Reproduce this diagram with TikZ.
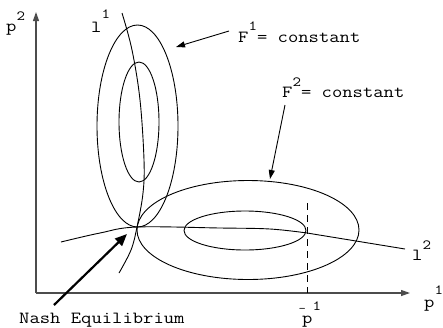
\documentclass[tikz,border=0pt]{standalone}
\usepackage{graphicx}
\usetikzlibrary{arrows.meta}
\newcommand{\myup}[2][12pt]{\raisebox{#1}{\fontsize{14}{14}\selectfont #2}}
\newcommand{\wide}[1]{\scalebox{1.18}[1]{#1}}
\begin{document}
\begin{tikzpicture}[x=1pt,y=-1pt,
  curve/.style={line width=0.9pt,black},
  axis/.style={line width=1.2pt,draw=black!70,-{Triangle[length=9pt,width=6pt]}},
  lbl/.style={font=\ttfamily\fontsize{17}{17}\selectfont,inner sep=0pt,anchor=base west},
  thinarrow/.style={line width=0.9pt,-{Triangle[length=9pt,width=6pt]}},
  thickarrow/.style={line width=2.2pt,-{Triangle[length=12pt,width=10pt]}}]
\useasboundingbox (0,0) rectangle (443,327);
% axes
\coordinate (O) at (36,293);
\coordinate (ytop) at (36,12);
\coordinate (xend) at (410,293);
\draw[axis] (O) -- (ytop);
\draw[axis] (O) -- (xend);
% labels
\node[lbl] (p2) at (6,31) {\wide{p\myup[11pt]{2}}};
\node[lbl] (p1) at (424,307) {\wide{p\myup[13pt]{1}}};
\node[lbl] (pbar) at (302,323) {\wide{\rlap{\hspace*{-3pt}\raisebox{11pt}{\fontsize{12}{12}\selectfont -}}p\myup[13pt]{1}}};
\node[lbl] (l1) at (91,32) {\wide{l\myup[14pt]{1}}};
\node[lbl] (l2) at (412,260) {\wide{l\myup[11pt]{2}}};
\node[lbl] (F1) at (238,42) {\wide{F\myup{1}= constant}};
\node[lbl] (F2) at (282,97) {\wide{F\myup[11pt]{2}= constant}};
\node[lbl] (nash) at (19,323) {\wide{Nash Equilibrium}};
% F1 ellipses
\draw[curve] (137.5,126) ellipse [x radius=40.5, y radius=101];
\draw[curve] (139,122) ellipse [x radius=20, y radius=60];
% F2 ellipses
\draw[curve] (248,230) ellipse [x radius=111, y radius=49.5];
\draw[curve] (245,230.5) ellipse [x radius=61, y radius=19.5];
% reaction curves
\coordinate (N) at (137,227);
\draw[curve] plot[smooth,tension=0.6] coordinates {(122,13) (132,50) (140,100) (144,160) (143,193) (N) (131,250) (119,273)};
\draw[curve] plot[smooth,tension=0.6] coordinates {(61,242) (100,233) (N) (220,228) (270,229) (307,233)} -- (405,249);
% dashed pbar
\coordinate (dtop) at (307,203);
\coordinate (dbot) at (307,293);
\draw[line width=0.9pt,dash pattern=on 7pt off 5pt] (dtop) -- (dbot);
% arrows
\coordinate (f1tail) at (229,31);
\coordinate (f1tip) at (176,47);
\draw[thinarrow] (f1tail) -- (f1tip);
\coordinate (f2tail) at (285,105);
\coordinate (f2tip) at (270,179);
\draw[thinarrow] (f2tail) -- (f2tip);
\coordinate (nashtail) at (54,305);
\coordinate (nashtip) at (127,234);
\draw[thickarrow] (nashtail) -- (nashtip);
\end{tikzpicture}
\end{document}
